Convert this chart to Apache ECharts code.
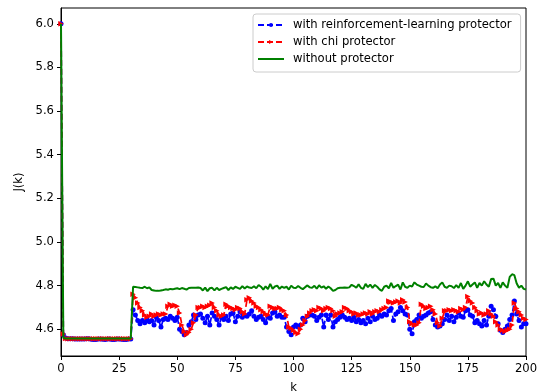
<!DOCTYPE html>
<html>
<head>
<meta charset="utf-8">
<title>J(k)</title>
<script src="https://cdn.jsdelivr.net/npm/echarts@6/dist/echarts.min.js"></script>
<style>
  html, body { margin: 0; padding: 0; background: #fff; }
  #chart { width: 547px; height: 391px; }
</style>
</head>
<body>
<div id="chart"></div>
<script>
// Step index k = 0 .. 200
const steps = Array.from({ length: 201 }, (_, i) => i);

const seriesNames = [
  'with reinforcement-learning protector',
  'with chi protector',
  'without protector'
];

const yTicks = [4.6, 4.8, 5.0, 5.2, 5.4, 5.6, 5.8, 6.0];

// J(k) with the reinforcement-learning protector
const rlProtector = [
  6.0, 4.575, 4.56, 4.557, 4.557, 4.556, 4.555, 4.555, 4.555, 4.555,
  4.555, 4.556, 4.557, 4.554, 4.553, 4.553, 4.555, 4.555, 4.554, 4.553,
  4.555, 4.555, 4.553, 4.553, 4.555, 4.555, 4.554, 4.553, 4.553, 4.555,
  4.555, 4.69, 4.665, 4.64, 4.625, 4.64, 4.63, 4.645, 4.635, 4.64,
  4.62, 4.655, 4.64, 4.61, 4.645, 4.65, 4.645, 4.66, 4.65, 4.64,
  4.655, 4.60, 4.59, 4.575, 4.585, 4.62, 4.635, 4.665, 4.645, 4.665,
  4.67, 4.65, 4.63, 4.66, 4.62, 4.675, 4.66, 4.645, 4.62, 4.655,
  4.645, 4.66, 4.64, 4.67, 4.675, 4.635, 4.66, 4.68, 4.655, 4.665,
  4.66, 4.67, 4.685, 4.66, 4.645, 4.655, 4.66, 4.645, 4.63, 4.66,
  4.65, 4.675, 4.68, 4.66, 4.665, 4.655, 4.655, 4.61, 4.59, 4.575,
  4.61, 4.62, 4.61, 4.62, 4.65, 4.635, 4.66, 4.665, 4.665, 4.66,
  4.64, 4.655, 4.665, 4.61, 4.665, 4.645, 4.665, 4.61, 4.635, 4.645,
  4.655, 4.665, 4.655, 4.645, 4.65, 4.64, 4.655, 4.635, 4.645, 4.63,
  4.64, 4.625, 4.65, 4.635, 4.66, 4.645, 4.65, 4.665, 4.66, 4.67,
  4.665, 4.685, 4.695, 4.64, 4.67, 4.68, 4.70, 4.685, 4.67, 4.665,
  4.60, 4.58, 4.635, 4.645, 4.665, 4.65, 4.66, 4.665, 4.675, 4.68,
  4.645, 4.62, 4.61, 4.615, 4.625, 4.645, 4.665, 4.64, 4.66, 4.635,
  4.655, 4.675, 4.66, 4.655, 4.685, 4.69, 4.665, 4.66, 4.63, 4.64,
  4.625, 4.615, 4.64, 4.62, 4.66, 4.705, 4.69, 4.66, 4.625, 4.595,
  4.585, 4.60, 4.615, 4.645, 4.665, 4.73, 4.67, 4.64, 4.61, 4.625,
  4.625
];

// J(k) with the chi protector
const chiProtector = [
  6.0, 4.578, 4.558, 4.557, 4.557, 4.557, 4.557, 4.557, 4.557, 4.557,
  4.557, 4.557, 4.557, 4.557, 4.557, 4.557, 4.557, 4.557, 4.557, 4.557,
  4.557, 4.557, 4.557, 4.557, 4.557, 4.557, 4.557, 4.557, 4.557, 4.557,
  4.557, 4.76, 4.745, 4.72, 4.70, 4.685, 4.665, 4.655, 4.66, 4.67,
  4.66, 4.665, 4.67, 4.665, 4.67, 4.67, 4.705, 4.715, 4.705, 4.71,
  4.705, 4.675, 4.62, 4.59, 4.575, 4.585, 4.60, 4.63, 4.665, 4.70,
  4.70, 4.705, 4.70, 4.705, 4.71, 4.72, 4.70, 4.685, 4.665, 4.66,
  4.665, 4.715, 4.705, 4.70, 4.695, 4.69, 4.70, 4.695, 4.68, 4.67,
  4.735, 4.745, 4.73, 4.72, 4.705, 4.70, 4.69, 4.68, 4.67, 4.665,
  4.705, 4.70, 4.695, 4.695, 4.70, 4.69, 4.685, 4.665, 4.61, 4.605,
  4.595, 4.585, 4.58, 4.60, 4.62, 4.64, 4.66, 4.675, 4.685, 4.69,
  4.685, 4.70, 4.695, 4.685, 4.695, 4.70, 4.695, 4.685, 4.66, 4.67,
  4.675, 4.68, 4.70, 4.695, 4.685, 4.68, 4.67, 4.675, 4.665, 4.665,
  4.67, 4.675, 4.67, 4.68, 4.67, 4.68, 4.685, 4.68, 4.69, 4.695,
  4.70, 4.73, 4.725, 4.72, 4.725, 4.73, 4.72, 4.735, 4.725, 4.70,
  4.635, 4.625, 4.62, 4.62, 4.63, 4.715, 4.705, 4.695, 4.70, 4.705,
  4.69, 4.67, 4.63, 4.615, 4.65, 4.685, 4.685, 4.69, 4.685, 4.69,
  4.685, 4.68, 4.695, 4.69, 4.70, 4.75, 4.73, 4.72, 4.70, 4.685,
  4.67, 4.675, 4.665, 4.67, 4.685, 4.67, 4.66, 4.635, 4.62, 4.60,
  4.595, 4.59, 4.595, 4.60, 4.62, 4.72, 4.695, 4.68, 4.665, 4.65,
  4.645
];

// J(k) with no protector
const noProtector = [
  6.0, 4.56, 4.558, 4.558, 4.558, 4.558, 4.558, 4.558, 4.558, 4.558,
  4.558, 4.558, 4.558, 4.558, 4.558, 4.558, 4.558, 4.558, 4.558, 4.558,
  4.558, 4.558, 4.558, 4.558, 4.558, 4.558, 4.558, 4.558, 4.558, 4.558,
  4.558, 4.795, 4.794, 4.792, 4.790, 4.789, 4.795, 4.788, 4.792, 4.780,
  4.778, 4.776, 4.776, 4.778, 4.780, 4.783, 4.781, 4.785, 4.783, 4.786,
  4.788, 4.784, 4.789, 4.786, 4.782, 4.789, 4.790, 4.790, 4.790, 4.791,
  4.789, 4.778, 4.791, 4.775, 4.788, 4.790, 4.778, 4.790, 4.780, 4.785,
  4.789, 4.793, 4.780, 4.792, 4.785, 4.795, 4.790, 4.785, 4.798, 4.787,
  4.796, 4.791, 4.789, 4.797, 4.788, 4.803, 4.795, 4.782, 4.797, 4.784,
  4.808, 4.786, 4.796, 4.800, 4.785, 4.796, 4.790, 4.795, 4.782, 4.800,
  4.790, 4.789, 4.798, 4.790, 4.784, 4.793, 4.801, 4.792, 4.790, 4.799,
  4.786, 4.802, 4.791, 4.797, 4.786, 4.796, 4.788, 4.776, 4.780, 4.788,
  4.790, 4.790, 4.791, 4.790, 4.792, 4.804, 4.798, 4.790, 4.806, 4.790,
  4.785, 4.808, 4.793, 4.805, 4.790, 4.803, 4.795, 4.783, 4.776, 4.795,
  4.800, 4.788, 4.812, 4.790, 4.798, 4.805, 4.782, 4.815, 4.795, 4.790,
  4.800, 4.796, 4.815, 4.805, 4.800, 4.795, 4.794, 4.810, 4.800, 4.793,
  4.790, 4.797, 4.788, 4.805, 4.815, 4.795, 4.790, 4.800, 4.797, 4.789,
  4.802, 4.790, 4.812, 4.785, 4.800, 4.820, 4.795, 4.805, 4.815, 4.790,
  4.812, 4.800, 4.820, 4.805, 4.795, 4.830, 4.832, 4.800, 4.812, 4.790,
  4.815, 4.800, 4.790, 4.840, 4.852, 4.848, 4.810, 4.790, 4.800, 4.785,
  4.782
];

const pairs = arr => arr.map((v, i) => [steps[i], v]);

const font = 'DejaVu Sans, Liberation Sans, sans-serif';
const fontSize = 11.6;
const chart = echarts.init(document.getElementById('chart'), null, { renderer: 'canvas' });

chart.setOption({
  animation: false,
  backgroundColor: '#ffffff',
  textStyle: { fontFamily: font, color: '#000' },
  grid: {
    left: 61, right: 21, top: 8, bottom: 35,
    containLabel: false,
    outerBoundsMode: 'none',
    show: true, borderColor: '#000', borderWidth: 1, backgroundColor: 'transparent'
  },
  legend: {
    orient: 'vertical',
    left: 253, top: 14,
    padding: [5, 9, 7, 4],
    itemGap: 5,
    itemWidth: 26,
    itemHeight: 5,
    backgroundColor: 'rgba(255,255,255,0.85)',
    borderColor: '#cccccc',
    borderWidth: 1,
    borderRadius: 3,
    textStyle: { fontFamily: font, fontSize: fontSize, color: '#000', lineHeight: 12, padding: [0, 0, 0, 4] },
    data: [
      { name: seriesNames[0] },
      { name: seriesNames[1] },
      { name: seriesNames[2], itemStyle: { color: 'rgba(0,0,0,0)', borderWidth: 0 } }
    ]
  },
  xAxis: {
    type: 'value',
    min: 0, max: 200, interval: 25,
    name: 'k',
    nameLocation: 'middle',
    nameGap: 26,
    nameTextStyle: { fontFamily: font, fontSize: fontSize, color: '#000' },
    axisLine: { show: true, onZero: false, lineStyle: { color: '#000', width: 1 } },
    axisTick: { show: true, inside: false, length: 4, lineStyle: { color: '#000' } },
    axisLabel: { fontFamily: font, fontSize: fontSize, color: '#000', margin: 7 },
    splitLine: { show: false }
  },
  yAxis: {
    type: 'value',
    min: 4.4775, max: 6.0725,
    name: 'J(k)',
    nameLocation: 'middle',
    nameRotate: 90,
    nameGap: 32,
    nameTextStyle: { fontFamily: font, fontSize: fontSize, color: '#000' },
    axisLine: { show: true, onZero: false, lineStyle: { color: '#000', width: 1 } },
    axisTick: { show: true, inside: false, length: 4, lineStyle: { color: '#000' }, customValues: yTicks },
    axisLabel: {
      fontFamily: font, fontSize: fontSize, color: '#000', margin: 7,
      customValues: yTicks,
      formatter: v => v.toFixed(1)
    },
    splitLine: { show: false }
  },
  series: [
    {
      name: seriesNames[0],
      type: 'line',
      data: pairs(rlProtector),
      symbol: 'circle',
      symbolSize: 5,
      showAllSymbol: true,
      itemStyle: { color: '#0000ff' },
      lineStyle: { color: '#0000ff', width: 1.7, type: [6, 3] },
      z: 2
    },
    {
      name: seriesNames[1],
      type: 'line',
      data: pairs(chiProtector),
      symbol: 'triangle',
      symbolRotate: -90,
      symbolSize: 5.5,
      showAllSymbol: true,
      itemStyle: { color: '#ff0000' },
      lineStyle: { color: '#ff0000', width: 1.7, type: [6, 3] },
      z: 3
    },
    {
      name: seriesNames[2],
      type: 'line',
      data: pairs(noProtector),
      symbol: 'none',
      itemStyle: { color: '#008000' },
      lineStyle: { color: '#008000', width: 2 },
      z: 4
    }
  ]
});
</script>
</body>
</html>
